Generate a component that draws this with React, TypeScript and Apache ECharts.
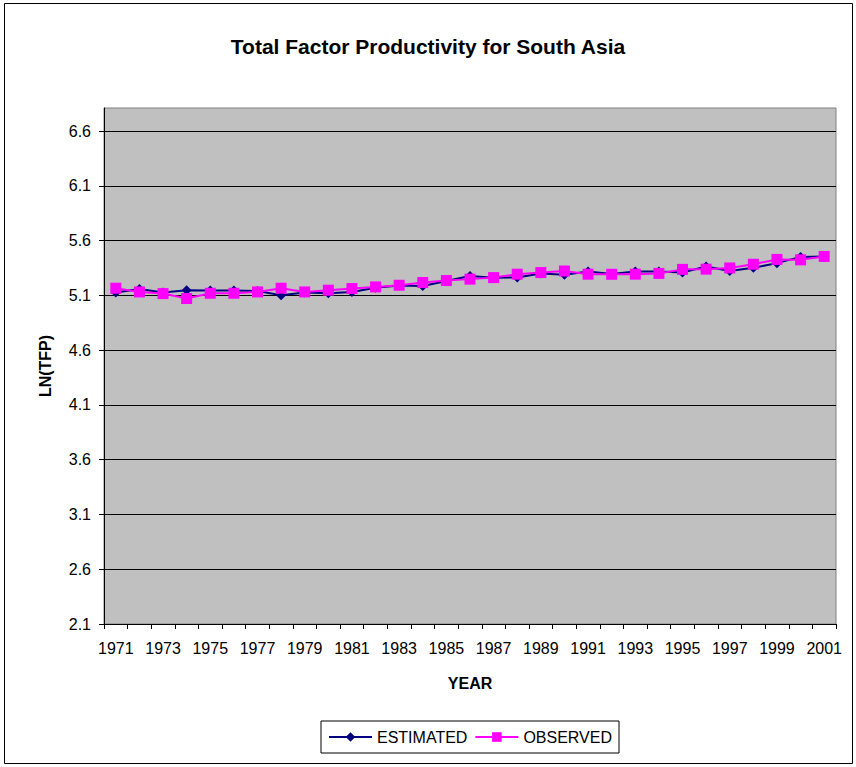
import React, { useEffect, useRef } from "react";
import * as echarts from "echarts";

const years: string[] = [
  "1971", "1972", "1973", "1974", "1975", "1976", "1977", "1978", "1979", "1980",
  "1981", "1982", "1983", "1984", "1985", "1986", "1987", "1988", "1989", "1990",
  "1991", "1992", "1993", "1994", "1995", "1996", "1997", "1998", "1999", "2000", "2001",
];

const estimated: number[] = [
  5.125, 5.158, 5.125, 5.147, 5.145, 5.145, 5.14, 5.1, 5.125, 5.119,
  5.131, 5.17, 5.19, 5.186, 5.23, 5.277, 5.26, 5.263, 5.3, 5.287,
  5.318, 5.295, 5.318, 5.318, 5.308, 5.363, 5.323, 5.351, 5.394, 5.451, 5.455,
];

const observed: number[] = [
  5.165, 5.131, 5.116, 5.071, 5.119, 5.119, 5.131, 5.165, 5.131, 5.147,
  5.162, 5.177, 5.192, 5.217, 5.235, 5.248, 5.262, 5.293, 5.308, 5.322,
  5.293, 5.292, 5.293, 5.3, 5.337, 5.339, 5.35, 5.384, 5.428, 5.424, 5.455,
];

const yMin = 2.1;
const yMax = 6.81;
const yStep = 0.5;

const FONT = "'Liberation Sans', Arial, sans-serif";

export default function App() {
  const ref = useRef<HTMLDivElement>(null);

  useEffect(() => {
    if (!ref.current) return;
    const chart = echarts.init(ref.current, undefined, { renderer: "svg" });
    chart.setOption({
      animation: false,
      backgroundColor: "#ffffff",
      textStyle: { fontFamily: FONT },
      title: {
        text: "Total Factor Productivity for South Asia",
        left: "center",
        top: 31,
        textStyle: { fontSize: 21, fontWeight: "bold", color: "#000", fontFamily: FONT },
      },
      graphic: [
        {
          type: "rect",
          shape: { x: 4.5, y: 3.5, width: 848, height: 760 },
          style: { fill: "none", stroke: "#000", lineWidth: 1 },
          silent: true,
          z: 100,
        },
      ],
      legend: {
        left: 321,
        top: 721,
        padding: [8, 7],
        itemGap: 7,
        itemWidth: 43,
        itemHeight: 12,
        borderColor: "#000",
        borderWidth: 1,
        textStyle: { fontSize: 16, color: "#000", fontFamily: FONT },
        data: ["ESTIMATED", "OBSERVED"],
      },
      grid: {
        left: 104,
        right: 20,
        top: 108,
        bottom: 143,
        show: true,
        backgroundColor: "#C0C0C0",
        borderColor: "#808080",
        borderWidth: 1,
      },
      xAxis: {
        type: "category",
        data: years,
        boundaryGap: true,
        name: "YEAR",
        nameLocation: "middle",
        nameGap: 51,
        nameTextStyle: { fontSize: 16, fontWeight: "bold", color: "#000", fontFamily: FONT },
        axisLine: { show: true, lineStyle: { color: "#000", width: 1 } },
        axisTick: { show: true, interval: 0, length: 5, lineStyle: { color: "#000" } },
        axisLabel: { interval: 1, fontSize: 16, color: "#000", margin: 16, fontFamily: FONT },
        splitLine: { show: false },
      },
      yAxis: [
        {
          type: "value",
          min: yMin,
          max: yMax,
          show: false,
          splitLine: { show: false },
        },
        {
          type: "value",
          min: 0,
          max: yMax - yMin,
          interval: yStep,
          position: "left",
          name: "LN(TFP)",
          nameLocation: "middle",
          nameGap: 51,
          nameRotate: 90,
          nameTextStyle: { fontSize: 16, fontWeight: "bold", color: "#000", fontFamily: FONT },
          axisLine: { show: true, lineStyle: { color: "#000", width: 1 } },
          axisTick: { show: true, length: 5, lineStyle: { color: "#000" } },
          axisLabel: {
            fontSize: 16,
            color: "#000",
            margin: 13,
            showMaxLabel: false,
            fontFamily: FONT,
            formatter: (v: number) => {
              const r = Math.round(v / yStep) * yStep;
              if (Math.abs(r - v) > 1e-6) return "";
              return (v + yMin).toFixed(1);
            },
          },
          splitLine: { show: true, showMaxLine: false, lineStyle: { color: "#000", width: 1 } },
        },
      ],
      series: [
        {
          name: "ESTIMATED",
          type: "line",
          yAxisIndex: 0,
          data: estimated,
          symbol: "diamond",
          symbolSize: 10,
          showAllSymbol: true,
          lineStyle: { color: "#000080", width: 2 },
          itemStyle: { color: "#000080" },
          z: 2,
        },
        {
          name: "OBSERVED",
          type: "line",
          yAxisIndex: 0,
          data: observed,
          symbol: "rect",
          symbolSize: 11,
          showAllSymbol: true,
          lineStyle: { color: "#FF00FF", width: 2 },
          itemStyle: { color: "#FF00FF" },
          z: 3,
        },
      ],
    });
    return () => chart.dispose();
  }, []);

  return (
    <div
      ref={ref}
      style={{ position: "fixed", left: 0, top: 0, width: 856, height: 767 }}
    />
  );
}
